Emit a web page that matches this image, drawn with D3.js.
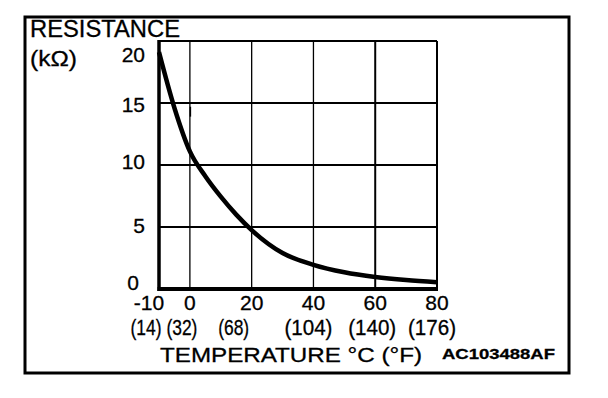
<!DOCTYPE html>
<html>
<head>
<meta charset="utf-8">
<script src="https://cdn.jsdelivr.net/npm/d3@7"></script>
<style>
  body { margin: 0; background: #fff; }
  text { font-family: "Liberation Sans", Arial, sans-serif; fill: #000; stroke: #000; stroke-width: 0.3; }
</style>
</head>
<body>
<svg id="chart" width="608" height="398"></svg>
<script>
// thermistor curve
const tempC = [-10, -5, 0, 5, 10, 15, 20, 30, 40, 50, 60, 70, 80];
const resistance = [19.1, 14.6, 11.1, 9.1, 7.45, 6.0, 4.75, 2.9, 1.95, 1.35, 0.97, 0.72, 0.55];

const xTicks = [-10, 0, 20, 40, 60, 80];
const xTickF = ["(14)", "(32)", "(68)", "(104)", "(140)", "(176)"];
const yTicks = [0, 5, 10, 15, 20];

const svg = d3.select("#chart");

// plot box
const plotL = 159, plotR = 437, plotT = 41, plotB = 289;

const x = d3.scaleLinear().domain([-10, 80]).range([plotL, plotR]);
const y = d3.scaleLinear().domain([0, 20]).range([plotB, plotT]);

// outer frame
svg.append("rect")
  .attr("x", 25).attr("y", 17)
  .attr("width", 544).attr("height", 356)
  .attr("fill", "none").attr("stroke", "#000").attr("stroke-width", 3);

// vertical grid lines
svg.selectAll(".vgrid")
  .data(xTicks.filter(d => d > -10 && d < 80))
  .enter().append("line")
  .attr("x1", d => x(d)).attr("x2", d => x(d))
  .attr("y1", plotT).attr("y2", plotB)
  .attr("stroke", "#000")
  .attr("stroke-width", d => d === 60 ? 2 : 1.3);

// horizontal grid lines
svg.selectAll(".hgrid")
  .data(yTicks.filter(d => d > 0 && d < 20))
  .enter().append("line")
  .attr("x1", plotL).attr("x2", plotR)
  .attr("y1", d => y(d)).attr("y2", d => y(d))
  .attr("stroke", "#000").attr("stroke-width", 2);

// box edges: top/right thinner, left/bottom heavy
svg.append("line").attr("x1", plotL).attr("x2", plotR).attr("y1", plotT).attr("y2", plotT)
  .attr("stroke", "#000").attr("stroke-width", 2);
svg.append("line").attr("x1", plotR).attr("x2", plotR).attr("y1", plotT).attr("y2", plotB)
  .attr("stroke", "#000").attr("stroke-width", 2);
svg.append("line").attr("x1", plotL).attr("x2", plotL).attr("y1", plotT - 1).attr("y2", plotB + 2)
  .attr("stroke", "#000").attr("stroke-width", 3.5);
svg.append("line").attr("x1", plotL - 1.5).attr("x2", plotR + 1).attr("y1", plotB).attr("y2", plotB)
  .attr("stroke", "#000").attr("stroke-width", 4);

// small stray stroke on the 0 line, as in the original
svg.append("line").attr("x1", x(0) + 0.5).attr("x2", x(0) + 0.5)
  .attr("y1", y(14.7)).attr("y2", y(13.9))
  .attr("stroke", "#000").attr("stroke-width", 1.5);

// the curve
const line = d3.line()
  .x((d, i) => x(tempC[i]))
  .y(d => y(d))
  .curve(d3.curveMonotoneX);

svg.append("path")
  .datum(resistance)
  .attr("d", line)
  .attr("fill", "none")
  .attr("stroke", "#000")
  .attr("stroke-width", 4.5);

// y tick labels
const yDy = { 0: 1, 5: 6, 10: 4, 15: 9, 20: 21 };
svg.selectAll(".ylab")
  .data(yTicks)
  .enter().append("text")
  .attr("x", d => d === 0 ? 139 : 145)
  .attr("y", d => y(d) + yDy[d])
  .attr("text-anchor", "end")
  .attr("font-size", 21)
  .text(d => d);

// x tick labels, celsius
svg.selectAll(".xlab")
  .data(xTicks)
  .enter().append("text")
  .attr("x", d => x(d) + (d === -10 ? -10 : 0))
  .attr("y", 310)
  .attr("text-anchor", "middle")
  .attr("font-size", 21)
  .text(d => d);

// x tick labels, fahrenheit (narrow parentheses in the original)
const fDx = [-13, -8, -18, -5, -3, -5];
svg.selectAll(".flab")
  .data(xTicks)
  .enter().append("text")
  .attr("x", (d, i) => x(d) + fDx[i])
  .attr("y", 335)
  .attr("text-anchor", "middle")
  .attr("font-size", 22)
  .attr("textLength", (d, i) => xTickF[i].length === 4 ? 31 : 48)
  .attr("lengthAdjust", "spacingAndGlyphs")
  .text((d, i) => xTickF[i]);

// titles
svg.append("text").attr("x", 30).attr("y", 37)
  .attr("font-size", 23)
  .attr("textLength", 150).attr("lengthAdjust", "spacingAndGlyphs")
  .text("RESISTANCE");
svg.append("text").attr("x", 30).attr("y", 66)
  .attr("font-size", 22)
  .attr("textLength", 47).attr("lengthAdjust", "spacingAndGlyphs")
  .text("(kΩ)");
svg.append("text").attr("x", 160).attr("y", 362)
  .attr("font-size", 21)
  .attr("textLength", 262).attr("lengthAdjust", "spacingAndGlyphs")
  .text("TEMPERATURE °C (°F)");
svg.append("text").attr("x", 442).attr("y", 359)
  .attr("font-size", 15).attr("font-weight", "bold")
  .attr("textLength", 113).attr("lengthAdjust", "spacingAndGlyphs")
  .text("AC103488AF");
</script>
</body>
</html>
